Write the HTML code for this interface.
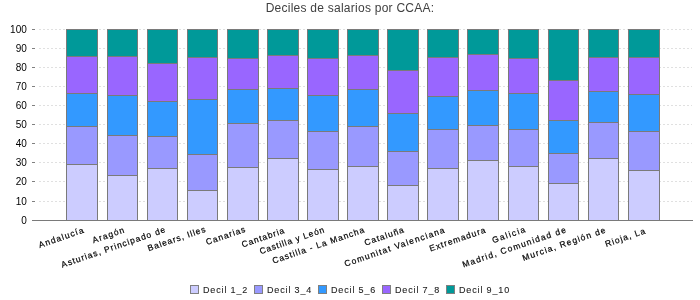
<!DOCTYPE html><html><head><meta charset="utf-8"><style>html,body{margin:0;padding:0;background:#fff;width:700px;height:300px;overflow:hidden}svg{display:block;will-change:transform}text{font-family:"Liberation Sans",sans-serif}</style></head><body>
<svg width="700" height="300" viewBox="0 0 700 300" shape-rendering="crispEdges">
<text x="350" y="12" text-anchor="middle" font-size="12" letter-spacing="0.25" fill="#404040">Deciles de salarios por CCAA:</text>
<line x1="39" y1="29.5" x2="692" y2="29.5" stroke="#e0e0e0" stroke-width="1" stroke-dasharray="2 2"/>
<line x1="32" y1="29.5" x2="35" y2="29.5" stroke="#808080" stroke-width="1"/>
<text x="27" y="32.5" text-anchor="end" font-size="10" letter-spacing="0.1" fill="#000">100</text>
<line x1="39" y1="48.5" x2="692" y2="48.5" stroke="#e0e0e0" stroke-width="1" stroke-dasharray="2 2"/>
<line x1="32" y1="48.5" x2="35" y2="48.5" stroke="#808080" stroke-width="1"/>
<text x="27" y="51.5" text-anchor="end" font-size="10" letter-spacing="0.1" fill="#000">90</text>
<line x1="39" y1="67.5" x2="692" y2="67.5" stroke="#e0e0e0" stroke-width="1" stroke-dasharray="2 2"/>
<line x1="32" y1="67.5" x2="35" y2="67.5" stroke="#808080" stroke-width="1"/>
<text x="27" y="70.5" text-anchor="end" font-size="10" letter-spacing="0.1" fill="#000">80</text>
<line x1="39" y1="86.5" x2="692" y2="86.5" stroke="#e0e0e0" stroke-width="1" stroke-dasharray="2 2"/>
<line x1="32" y1="86.5" x2="35" y2="86.5" stroke="#808080" stroke-width="1"/>
<text x="27" y="89.5" text-anchor="end" font-size="10" letter-spacing="0.1" fill="#000">70</text>
<line x1="39" y1="105.5" x2="692" y2="105.5" stroke="#e0e0e0" stroke-width="1" stroke-dasharray="2 2"/>
<line x1="32" y1="105.5" x2="35" y2="105.5" stroke="#808080" stroke-width="1"/>
<text x="27" y="108.5" text-anchor="end" font-size="10" letter-spacing="0.1" fill="#000">60</text>
<line x1="39" y1="124.5" x2="692" y2="124.5" stroke="#e0e0e0" stroke-width="1" stroke-dasharray="2 2"/>
<line x1="32" y1="124.5" x2="35" y2="124.5" stroke="#808080" stroke-width="1"/>
<text x="27" y="127.5" text-anchor="end" font-size="10" letter-spacing="0.1" fill="#000">50</text>
<line x1="39" y1="143.5" x2="692" y2="143.5" stroke="#e0e0e0" stroke-width="1" stroke-dasharray="2 2"/>
<line x1="32" y1="143.5" x2="35" y2="143.5" stroke="#808080" stroke-width="1"/>
<text x="27" y="146.5" text-anchor="end" font-size="10" letter-spacing="0.1" fill="#000">40</text>
<line x1="39" y1="162.5" x2="692" y2="162.5" stroke="#e0e0e0" stroke-width="1" stroke-dasharray="2 2"/>
<line x1="32" y1="162.5" x2="35" y2="162.5" stroke="#808080" stroke-width="1"/>
<text x="27" y="165.5" text-anchor="end" font-size="10" letter-spacing="0.1" fill="#000">30</text>
<line x1="39" y1="181.5" x2="692" y2="181.5" stroke="#e0e0e0" stroke-width="1" stroke-dasharray="2 2"/>
<line x1="32" y1="181.5" x2="35" y2="181.5" stroke="#808080" stroke-width="1"/>
<text x="27" y="184.5" text-anchor="end" font-size="10" letter-spacing="0.1" fill="#000">20</text>
<line x1="39" y1="201.5" x2="692" y2="201.5" stroke="#e0e0e0" stroke-width="1" stroke-dasharray="2 2"/>
<line x1="32" y1="201.5" x2="35" y2="201.5" stroke="#808080" stroke-width="1"/>
<text x="27" y="204.5" text-anchor="end" font-size="10" letter-spacing="0.1" fill="#000">10</text>
<line x1="32" y1="220.5" x2="35" y2="220.5" stroke="#808080" stroke-width="1"/>
<text x="27" y="223.5" text-anchor="end" font-size="10" letter-spacing="0.1" fill="#000">0</text>
<line x1="32" y1="220.5" x2="693" y2="220.5" stroke="#7a7a7a" stroke-width="1"/>
<rect x="66.5" y="29.5" width="31" height="27.0" fill="#009999" stroke="#7a7a7a" stroke-width="1"/>
<rect x="66.5" y="56.5" width="31" height="37.0" fill="#9966ff" stroke="#7a7a7a" stroke-width="1"/>
<rect x="66.5" y="93.5" width="31" height="33.0" fill="#3399ff" stroke="#7a7a7a" stroke-width="1"/>
<rect x="66.5" y="126.5" width="31" height="38.0" fill="#9999ff" stroke="#7a7a7a" stroke-width="1"/>
<rect x="66.5" y="164.5" width="31" height="56.0" fill="#ccccff" stroke="#7a7a7a" stroke-width="1"/>
<rect x="107.5" y="29.5" width="30" height="27.0" fill="#009999" stroke="#7a7a7a" stroke-width="1"/>
<rect x="107.5" y="56.5" width="30" height="39.0" fill="#9966ff" stroke="#7a7a7a" stroke-width="1"/>
<rect x="107.5" y="95.5" width="30" height="40.0" fill="#3399ff" stroke="#7a7a7a" stroke-width="1"/>
<rect x="107.5" y="135.5" width="30" height="40.0" fill="#9999ff" stroke="#7a7a7a" stroke-width="1"/>
<rect x="107.5" y="175.5" width="30" height="45.0" fill="#ccccff" stroke="#7a7a7a" stroke-width="1"/>
<rect x="147.5" y="29.5" width="30" height="34.0" fill="#009999" stroke="#7a7a7a" stroke-width="1"/>
<rect x="147.5" y="63.5" width="30" height="38.0" fill="#9966ff" stroke="#7a7a7a" stroke-width="1"/>
<rect x="147.5" y="101.5" width="30" height="35.0" fill="#3399ff" stroke="#7a7a7a" stroke-width="1"/>
<rect x="147.5" y="136.5" width="30" height="32.0" fill="#9999ff" stroke="#7a7a7a" stroke-width="1"/>
<rect x="147.5" y="168.5" width="30" height="52.0" fill="#ccccff" stroke="#7a7a7a" stroke-width="1"/>
<rect x="187.5" y="29.5" width="30" height="28.0" fill="#009999" stroke="#7a7a7a" stroke-width="1"/>
<rect x="187.5" y="57.5" width="30" height="42.0" fill="#9966ff" stroke="#7a7a7a" stroke-width="1"/>
<rect x="187.5" y="99.5" width="30" height="55.0" fill="#3399ff" stroke="#7a7a7a" stroke-width="1"/>
<rect x="187.5" y="154.5" width="30" height="36.0" fill="#9999ff" stroke="#7a7a7a" stroke-width="1"/>
<rect x="187.5" y="190.5" width="30" height="30.0" fill="#ccccff" stroke="#7a7a7a" stroke-width="1"/>
<rect x="227.5" y="29.5" width="31" height="29.0" fill="#009999" stroke="#7a7a7a" stroke-width="1"/>
<rect x="227.5" y="58.5" width="31" height="31.0" fill="#9966ff" stroke="#7a7a7a" stroke-width="1"/>
<rect x="227.5" y="89.5" width="31" height="34.0" fill="#3399ff" stroke="#7a7a7a" stroke-width="1"/>
<rect x="227.5" y="123.5" width="31" height="44.0" fill="#9999ff" stroke="#7a7a7a" stroke-width="1"/>
<rect x="227.5" y="167.5" width="31" height="53.0" fill="#ccccff" stroke="#7a7a7a" stroke-width="1"/>
<rect x="267.5" y="29.5" width="31" height="26.0" fill="#009999" stroke="#7a7a7a" stroke-width="1"/>
<rect x="267.5" y="55.5" width="31" height="33.0" fill="#9966ff" stroke="#7a7a7a" stroke-width="1"/>
<rect x="267.5" y="88.5" width="31" height="32.0" fill="#3399ff" stroke="#7a7a7a" stroke-width="1"/>
<rect x="267.5" y="120.5" width="31" height="38.0" fill="#9999ff" stroke="#7a7a7a" stroke-width="1"/>
<rect x="267.5" y="158.5" width="31" height="62.0" fill="#ccccff" stroke="#7a7a7a" stroke-width="1"/>
<rect x="307.5" y="29.5" width="31" height="29.0" fill="#009999" stroke="#7a7a7a" stroke-width="1"/>
<rect x="307.5" y="58.5" width="31" height="37.0" fill="#9966ff" stroke="#7a7a7a" stroke-width="1"/>
<rect x="307.5" y="95.5" width="31" height="36.0" fill="#3399ff" stroke="#7a7a7a" stroke-width="1"/>
<rect x="307.5" y="131.5" width="31" height="38.0" fill="#9999ff" stroke="#7a7a7a" stroke-width="1"/>
<rect x="307.5" y="169.5" width="31" height="51.0" fill="#ccccff" stroke="#7a7a7a" stroke-width="1"/>
<rect x="347.5" y="29.5" width="31" height="26.0" fill="#009999" stroke="#7a7a7a" stroke-width="1"/>
<rect x="347.5" y="55.5" width="31" height="34.0" fill="#9966ff" stroke="#7a7a7a" stroke-width="1"/>
<rect x="347.5" y="89.5" width="31" height="37.0" fill="#3399ff" stroke="#7a7a7a" stroke-width="1"/>
<rect x="347.5" y="126.5" width="31" height="40.0" fill="#9999ff" stroke="#7a7a7a" stroke-width="1"/>
<rect x="347.5" y="166.5" width="31" height="54.0" fill="#ccccff" stroke="#7a7a7a" stroke-width="1"/>
<rect x="387.5" y="29.5" width="31" height="41.0" fill="#009999" stroke="#7a7a7a" stroke-width="1"/>
<rect x="387.5" y="70.5" width="31" height="43.0" fill="#9966ff" stroke="#7a7a7a" stroke-width="1"/>
<rect x="387.5" y="113.5" width="31" height="38.0" fill="#3399ff" stroke="#7a7a7a" stroke-width="1"/>
<rect x="387.5" y="151.5" width="31" height="34.0" fill="#9999ff" stroke="#7a7a7a" stroke-width="1"/>
<rect x="387.5" y="185.5" width="31" height="35.0" fill="#ccccff" stroke="#7a7a7a" stroke-width="1"/>
<rect x="427.5" y="29.5" width="31" height="28.0" fill="#009999" stroke="#7a7a7a" stroke-width="1"/>
<rect x="427.5" y="57.5" width="31" height="39.0" fill="#9966ff" stroke="#7a7a7a" stroke-width="1"/>
<rect x="427.5" y="96.5" width="31" height="33.0" fill="#3399ff" stroke="#7a7a7a" stroke-width="1"/>
<rect x="427.5" y="129.5" width="31" height="39.0" fill="#9999ff" stroke="#7a7a7a" stroke-width="1"/>
<rect x="427.5" y="168.5" width="31" height="52.0" fill="#ccccff" stroke="#7a7a7a" stroke-width="1"/>
<rect x="467.5" y="29.5" width="31" height="25.0" fill="#009999" stroke="#7a7a7a" stroke-width="1"/>
<rect x="467.5" y="54.5" width="31" height="36.0" fill="#9966ff" stroke="#7a7a7a" stroke-width="1"/>
<rect x="467.5" y="90.5" width="31" height="35.0" fill="#3399ff" stroke="#7a7a7a" stroke-width="1"/>
<rect x="467.5" y="125.5" width="31" height="35.0" fill="#9999ff" stroke="#7a7a7a" stroke-width="1"/>
<rect x="467.5" y="160.5" width="31" height="60.0" fill="#ccccff" stroke="#7a7a7a" stroke-width="1"/>
<rect x="508.5" y="29.5" width="30" height="29.0" fill="#009999" stroke="#7a7a7a" stroke-width="1"/>
<rect x="508.5" y="58.5" width="30" height="35.0" fill="#9966ff" stroke="#7a7a7a" stroke-width="1"/>
<rect x="508.5" y="93.5" width="30" height="36.0" fill="#3399ff" stroke="#7a7a7a" stroke-width="1"/>
<rect x="508.5" y="129.5" width="30" height="37.0" fill="#9999ff" stroke="#7a7a7a" stroke-width="1"/>
<rect x="508.5" y="166.5" width="30" height="54.0" fill="#ccccff" stroke="#7a7a7a" stroke-width="1"/>
<rect x="548.5" y="29.5" width="30" height="51.0" fill="#009999" stroke="#7a7a7a" stroke-width="1"/>
<rect x="548.5" y="80.5" width="30" height="40.0" fill="#9966ff" stroke="#7a7a7a" stroke-width="1"/>
<rect x="548.5" y="120.5" width="30" height="33.0" fill="#3399ff" stroke="#7a7a7a" stroke-width="1"/>
<rect x="548.5" y="153.5" width="30" height="30.0" fill="#9999ff" stroke="#7a7a7a" stroke-width="1"/>
<rect x="548.5" y="183.5" width="30" height="37.0" fill="#ccccff" stroke="#7a7a7a" stroke-width="1"/>
<rect x="588.5" y="29.5" width="30" height="28.0" fill="#009999" stroke="#7a7a7a" stroke-width="1"/>
<rect x="588.5" y="57.5" width="30" height="34.0" fill="#9966ff" stroke="#7a7a7a" stroke-width="1"/>
<rect x="588.5" y="91.5" width="30" height="31.0" fill="#3399ff" stroke="#7a7a7a" stroke-width="1"/>
<rect x="588.5" y="122.5" width="30" height="36.0" fill="#9999ff" stroke="#7a7a7a" stroke-width="1"/>
<rect x="588.5" y="158.5" width="30" height="62.0" fill="#ccccff" stroke="#7a7a7a" stroke-width="1"/>
<rect x="628.5" y="29.5" width="31" height="28.0" fill="#009999" stroke="#7a7a7a" stroke-width="1"/>
<rect x="628.5" y="57.5" width="31" height="37.0" fill="#9966ff" stroke="#7a7a7a" stroke-width="1"/>
<rect x="628.5" y="94.5" width="31" height="37.0" fill="#3399ff" stroke="#7a7a7a" stroke-width="1"/>
<rect x="628.5" y="131.5" width="31" height="39.0" fill="#9999ff" stroke="#7a7a7a" stroke-width="1"/>
<rect x="628.5" y="170.5" width="31" height="50.0" fill="#ccccff" stroke="#7a7a7a" stroke-width="1"/>
<text transform="translate(85.25,232.25) rotate(-19)" text-anchor="end" font-size="8.5" letter-spacing="1.15" fill="#000" stroke="#000" stroke-width="0.2" shape-rendering="auto">Andalucía</text>
<text transform="translate(125.88,232.02) rotate(-19)" text-anchor="end" font-size="8.5" letter-spacing="1.15" fill="#000" stroke="#000" stroke-width="0.2" shape-rendering="auto">Aragón</text>
<text transform="translate(166.75,231.75) rotate(-19)" text-anchor="end" font-size="8.5" letter-spacing="1.0" fill="#000" stroke="#000" stroke-width="0.2" shape-rendering="auto">Asturias, Principado de</text>
<text transform="translate(206.8,231.3) rotate(-19)" text-anchor="end" font-size="8.5" letter-spacing="0.9" fill="#000" stroke="#000" stroke-width="0.2" shape-rendering="auto">Balears, Illes</text>
<text transform="translate(246.8,231.35) rotate(-19)" text-anchor="end" font-size="8.5" letter-spacing="1.0" fill="#000" stroke="#000" stroke-width="0.2" shape-rendering="auto">Canarias</text>
<text transform="translate(285.7,232.7) rotate(-19)" text-anchor="end" font-size="8.5" letter-spacing="0.95" fill="#000" stroke="#000" stroke-width="0.2" shape-rendering="auto">Cantabria</text>
<text transform="translate(325.45,231.9) rotate(-19)" text-anchor="end" font-size="8.5" letter-spacing="0.85" fill="#000" stroke="#000" stroke-width="0.2" shape-rendering="auto">Castilla y León</text>
<text transform="translate(365.6,232.0) rotate(-19)" text-anchor="end" font-size="8.5" letter-spacing="1.0" fill="#000" stroke="#000" stroke-width="0.2" shape-rendering="auto">Castilla - La Mancha</text>
<text transform="translate(405.25,232.0) rotate(-19)" text-anchor="end" font-size="8.5" letter-spacing="1.0" fill="#000" stroke="#000" stroke-width="0.2" shape-rendering="auto">Cataluña</text>
<text transform="translate(446.2,232.1) rotate(-19)" text-anchor="end" font-size="8.5" letter-spacing="1.2" fill="#000" stroke="#000" stroke-width="0.2" shape-rendering="auto">Comunitat Valenciana</text>
<text transform="translate(487.0,232.15) rotate(-19)" text-anchor="end" font-size="8.5" letter-spacing="1.0" fill="#000" stroke="#000" stroke-width="0.2" shape-rendering="auto">Extremadura</text>
<text transform="translate(527.1,231.5) rotate(-19)" text-anchor="end" font-size="8.5" letter-spacing="1.4" fill="#000" stroke="#000" stroke-width="0.2" shape-rendering="auto">Galicia</text>
<text transform="translate(567.5,231.8) rotate(-19)" text-anchor="end" font-size="8.5" letter-spacing="1.2" fill="#000" stroke="#000" stroke-width="0.2" shape-rendering="auto">Madrid, Comunidad de</text>
<text transform="translate(607.15,232.1) rotate(-19)" text-anchor="end" font-size="8.5" letter-spacing="1.15" fill="#000" stroke="#000" stroke-width="0.2" shape-rendering="auto">Murcia, Región de</text>
<text transform="translate(646.8,233.0) rotate(-19)" text-anchor="end" font-size="8.5" letter-spacing="1.05" fill="#000" stroke="#000" stroke-width="0.2" shape-rendering="auto">Rioja, La</text>
<rect x="190.5" y="285.5" width="8" height="8" fill="#ccccff" stroke="#808080" stroke-width="1"/>
<text x="203" y="293" font-size="9" letter-spacing="0.85" fill="#222" stroke="#222" stroke-width="0.1">Decil 1_2</text>
<rect x="254.5" y="285.5" width="8" height="8" fill="#9999ff" stroke="#808080" stroke-width="1"/>
<text x="267" y="293" font-size="9" letter-spacing="0.85" fill="#222" stroke="#222" stroke-width="0.1">Decil 3_4</text>
<rect x="318.5" y="285.5" width="8" height="8" fill="#3399ff" stroke="#808080" stroke-width="1"/>
<text x="331" y="293" font-size="9" letter-spacing="0.85" fill="#222" stroke="#222" stroke-width="0.1">Decil 5_6</text>
<rect x="382.5" y="285.5" width="8" height="8" fill="#9966ff" stroke="#808080" stroke-width="1"/>
<text x="395" y="293" font-size="9" letter-spacing="0.85" fill="#222" stroke="#222" stroke-width="0.1">Decil 7_8</text>
<rect x="446.5" y="285.5" width="8" height="8" fill="#009999" stroke="#808080" stroke-width="1"/>
<text x="459" y="293" font-size="9" letter-spacing="0.85" fill="#222" stroke="#222" stroke-width="0.1">Decil 9_10</text>
</svg></body></html>
